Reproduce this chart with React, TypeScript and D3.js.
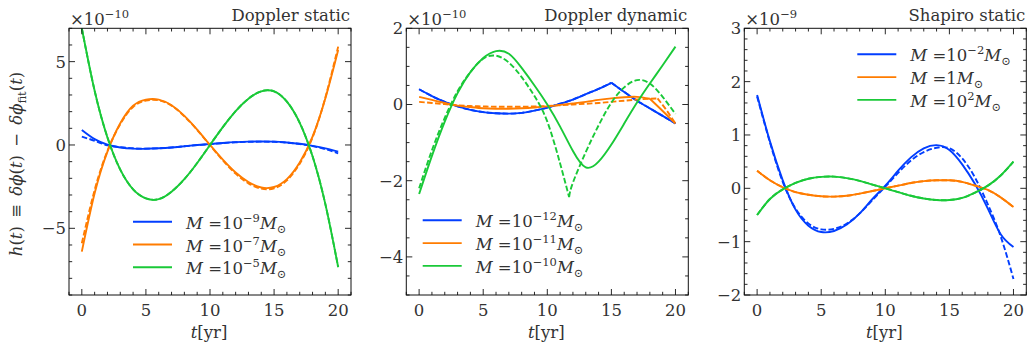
import React from 'react';
import * as d3 from 'd3';

const years = [0, 1, 2, 3, 4, 5, 6, 7, 8, 9, 10, 11, 12, 13, 14, 15, 16, 17, 18, 19, 20];

// ---------- Panel 1: Doppler static (x 1e-10)
const dsBlueSolid = [0.9, 0.35, 0.02, -0.15, -0.22, -0.23, -0.2, -0.15, -0.08, 0.0, 0.06, 0.12, 0.17, 0.2, 0.21, 0.2, 0.15, 0.07, -0.05, -0.2, -0.4];
const dsBlueDashed = [0.5, 0.25, -0.02, -0.13, -0.2, -0.22, -0.2, -0.15, -0.08, -0.01, 0.05, 0.11, 0.16, 0.19, 0.2, 0.19, 0.14, 0.06, -0.07, -0.25, -0.5];
const dsOrangeSolid = [-6.4, -2.9, -0.4, 1.3, 2.35, 2.72, 2.72, 2.38, 1.75, 0.92, 0.0, -0.88, -1.65, -2.22, -2.55, -2.52, -2.05, -1.05, 0.5, 2.8, 5.7];
const dsOrangeDashed = [-5.9, -2.7, -0.35, 1.25, 2.28, 2.66, 2.68, 2.36, 1.72, 0.9, -0.02, -0.92, -1.72, -2.3, -2.62, -2.6, -2.12, -1.12, 0.45, 2.85, 5.9];
const dsGreenSolid = [7.0, 3.25, 0.45, -1.48, -2.66, -3.2, -3.25, -2.8, -2.05, -1.08, 0.0, 1.07, 2.03, 2.78, 3.22, 3.22, 2.6, 1.33, -0.68, -3.55, -7.33];
const dsGreenDashed = dsGreenSolid;

// ---------- Panel 2: Doppler dynamic (x 1e-10)
const ddBlueSolid = [0.4, 0.22, 0.07, -0.05, -0.14, -0.2, -0.23, -0.24, -0.22, -0.16, -0.08, 0.02, 0.13, 0.27, 0.41, 0.57, 0.33, 0.1, -0.1, -0.3, -0.5];
const ddBlueDashed = ddBlueSolid;
const ddOrangeSolid = [0.2, 0.12, 0.04, -0.03, -0.07, -0.1, -0.11, -0.11, -0.1, -0.08, -0.05, -0.01, 0.03, 0.07, 0.12, 0.16, 0.19, 0.2, 0.15, -0.17, -0.5];
const ddOrangeDashedT = [0, 1, 2, 3, 4, 5, 6, 7, 8, 9, 10, 11, 12, 13, 14, 15, 16, 17, 18, 18.6, 19.3, 20];
const ddOrangeDashed = [0.07, 0.04, 0.01, -0.02, -0.04, -0.05, -0.06, -0.06, -0.06, -0.05, -0.04, -0.02, 0.0, 0.02, 0.04, 0.07, 0.1, 0.13, 0.15, 0.16, -0.15, -0.5];
const ddGreenSolid = [-2.35, -1.35, -0.45, 0.3, 0.85, 1.22, 1.4, 1.33, 0.96, 0.5, 0.0, -0.58, -1.22, -1.65, -1.5, -1.05, -0.5, 0.05, 0.55, 1.03, 1.52];
const ddGreenDashedT = [0, 1, 2, 3, 4, 5, 6, 7, 8, 9, 10, 11, 11.7, 12, 13, 14, 15, 16, 17, 18, 19, 20];
const ddGreenDashed = [-2.2, -1.2, -0.35, 0.35, 0.85, 1.2, 1.28, 1.1, 0.72, 0.22, -0.45, -1.55, -2.43, -2.05, -1.25, -0.55, 0.05, 0.45, 0.64, 0.55, 0.2, -0.25];

// ---------- Panel 3: Shapiro static (x 1e-9)
const ssBlueSolid = [1.75, 0.88, 0.15, -0.4, -0.7, -0.82, -0.8, -0.68, -0.47, -0.2, 0.05, 0.33, 0.58, 0.75, 0.81, 0.72, 0.45, 0.08, -0.38, -0.86, -1.1];
const ssBlueDashed = [1.72, 0.86, 0.12, -0.38, -0.66, -0.77, -0.76, -0.66, -0.47, -0.22, 0.03, 0.29, 0.52, 0.68, 0.76, 0.75, 0.56, 0.2, -0.3, -0.9, -1.7];
const ssOrangeSolid = [0.33, 0.15, 0.02, -0.07, -0.12, -0.15, -0.155, -0.14, -0.1, -0.05, 0.0, 0.05, 0.1, 0.135, 0.15, 0.15, 0.12, 0.05, -0.03, -0.17, -0.35];
const ssOrangeDashed = ssOrangeSolid;
const ssGreenSolid = [-0.5, -0.2, -0.02, 0.1, 0.18, 0.215, 0.22, 0.19, 0.14, 0.07, 0.0, -0.07, -0.14, -0.19, -0.22, -0.22, -0.18, -0.08, 0.05, 0.24, 0.5];
const ssGreenDashed = ssGreenSolid;

const xMajorTicks = [0, 5, 10, 15, 20];
const p1YTicks = [-5, 0, 5];
const p2YTicks = [-4, -2, 0, 2];
const p3YTicks = [-2, -1, 0, 1, 2, 3];

const BLUE = '#023eff';
const ORANGE = '#ff7c00';
const GREEN = '#1ac938';
const FONT = '"DejaVu Serif", serif';
const TXT = '#333';

type Series = { t: number[]; v: number[]; color: string; dashed: boolean; kinks?: number[] };
type LegendItem = { color: string; exp?: string; mant: string };
type PanelCfg = {
  left: number;
  yDomain: [number, number];
  yTicks: number[];
  yMinor: number;
  expo: string;
  title: string;
  legendX: number;
  legendY: number;
  legend: LegendItem[];
  series: Series[];
};

const panels: PanelCfg[] = [
  {
    left: 69,
    yDomain: [-9, 7],
    yTicks: p1YTicks,
    yMinor: 1,
    expo: '−10',
    title: 'Doppler static',
    legendX: 64,
    legendY: 221.7,
    legend: [
      { color: BLUE, mant: '10', exp: '−9' },
      { color: ORANGE, mant: '10', exp: '−7' },
      { color: GREEN, mant: '10', exp: '−5' },
    ],
    series: [
      { t: years, v: dsBlueSolid, color: BLUE, dashed: false },
      { t: years, v: dsBlueDashed, color: BLUE, dashed: true },
      { t: years, v: dsOrangeSolid, color: ORANGE, dashed: false },
      { t: years, v: dsOrangeDashed, color: ORANGE, dashed: true },
      { t: years, v: dsGreenSolid, color: GREEN, dashed: false },
      { t: years, v: dsGreenDashed, color: GREEN, dashed: true },
    ],
  },
  {
    left: 406.3,
    yDomain: [-5, 2],
    yTicks: p2YTicks,
    yMinor: 0.5,
    expo: '−10',
    title: 'Doppler dynamic',
    legendX: 16.4,
    legendY: 220.3,
    legend: [
      { color: BLUE, mant: '10', exp: '−12' },
      { color: ORANGE, mant: '10', exp: '−11' },
      { color: GREEN, mant: '10', exp: '−10' },
    ],
    series: [
      { t: years, v: ddBlueSolid, color: BLUE, dashed: false, kinks: [15] },
      { t: years, v: ddBlueDashed, color: BLUE, dashed: true, kinks: [15] },
      { t: years, v: ddOrangeSolid, color: ORANGE, dashed: false, kinks: [18] },
      { t: ddOrangeDashedT, v: ddOrangeDashed, color: ORANGE, dashed: true, kinks: [18.6] },
      { t: years, v: ddGreenSolid, color: GREEN, dashed: false },
      { t: ddGreenDashedT, v: ddGreenDashed, color: GREEN, dashed: true, kinks: [11.7] },
    ],
  },
  {
    left: 744.3,
    yDomain: [-2, 3],
    yTicks: p3YTicks,
    yMinor: 0.2,
    expo: '−9',
    title: 'Shapiro static',
    legendX: 113,
    legendY: 54.3,
    legend: [
      { color: BLUE, mant: '10', exp: '−2' },
      { color: ORANGE, mant: '1' },
      { color: GREEN, mant: '10', exp: '2' },
    ],
    series: [
      { t: years, v: ssBlueSolid, color: BLUE, dashed: false },
      { t: years, v: ssBlueDashed, color: BLUE, dashed: true },
      { t: years, v: ssOrangeSolid, color: ORANGE, dashed: false },
      { t: years, v: ssOrangeDashed, color: ORANGE, dashed: true },
      { t: years, v: ssGreenSolid, color: GREEN, dashed: false },
      { t: years, v: ssGreenDashed, color: GREEN, dashed: true },
    ],
  },
];

const TOP = 28.3;
const BOTTOM = 295;
const PW = 282;
const FS = 16.5;
const SS = 11.5;

function seriesPath(s: Series, x: d3.ScaleLinear<number, number>, y: d3.ScaleLinear<number, number>) {
  const pts: [number, number][] = s.t.map((t, i) => [t, s.v[i]]);
  const kinks = s.kinks ?? [];
  const pieces: [number, number][][] = [];
  let cur: [number, number][] = [];
  pts.forEach((p) => {
    cur.push(p);
    if (kinks.includes(p[0])) {
      pieces.push(cur);
      cur = [p];
    }
  });
  if (cur.length > 1) pieces.push(cur);
  const line = d3
    .line<[number, number]>()
    .x((d) => x(d[0]))
    .y((d) => y(d[1]))
    .curve(d3.curveNatural);
  return pieces.map((pc) => line(pc)).join('');
}

function Panel({ cfg, idx }: { cfg: PanelCfg; idx: number }) {
  const x = d3.scaleLinear().domain([-1, 21]).range([cfg.left, cfg.left + PW]);
  const y = d3.scaleLinear().domain(cfg.yDomain).range([BOTTOM, TOP]);
  const xMinor = d3.range(-1, 21.001, 1).filter((v) => !xMajorTicks.includes(v));
  const nMinor = Math.round((cfg.yDomain[1] - cfg.yDomain[0]) / cfg.yMinor);
  const yMinor = d3
    .range(0, nMinor + 1)
    .map((i) => cfg.yDomain[0] + i * cfg.yMinor)
    .filter((v) => !cfg.yTicks.some((t) => Math.abs(t - v) < 1e-6));
  const right = cfg.left + PW;
  const clipId = `clip${idx}`;
  const MAJ = 6;
  const MIN = 3.2;
  const tickStroke = '#111';
  return (
    <g>
      <defs>
        <clipPath id={clipId}>
          <rect x={cfg.left} y={TOP} width={PW} height={BOTTOM - TOP} />
        </clipPath>
      </defs>
      <g clipPath={`url(#${clipId})`}>
        {cfg.series.map((s, i) => (
          <path
            key={i}
            d={seriesPath(s, x, y)}
            fill="none"
            stroke={s.color}
            strokeWidth={1.9}
            strokeDasharray={s.dashed ? '5.6,2.4' : undefined}
          />
        ))}
      </g>
      {/* ticks */}
      <g stroke={tickStroke} strokeWidth={0.9}>
        {xMajorTicks.map((t) => (
          <g key={'xm' + t}>
            <line x1={x(t)} x2={x(t)} y1={BOTTOM} y2={BOTTOM - MAJ} />
            <line x1={x(t)} x2={x(t)} y1={TOP} y2={TOP + MAJ} />
          </g>
        ))}
        {xMinor.map((t) => (
          <g key={'xn' + t}>
            <line x1={x(t)} x2={x(t)} y1={BOTTOM} y2={BOTTOM - MIN} />
            <line x1={x(t)} x2={x(t)} y1={TOP} y2={TOP + MIN} />
          </g>
        ))}
        {cfg.yTicks.map((t) => (
          <g key={'ym' + t}>
            <line x1={cfg.left} x2={cfg.left + MAJ} y1={y(t)} y2={y(t)} />
            <line x1={right} x2={right - MAJ} y1={y(t)} y2={y(t)} />
          </g>
        ))}
        {yMinor.map((t) => (
          <g key={'yn' + t}>
            <line x1={cfg.left} x2={cfg.left + MIN} y1={y(t)} y2={y(t)} />
            <line x1={right} x2={right - MIN} y1={y(t)} y2={y(t)} />
          </g>
        ))}
      </g>
      <rect x={cfg.left} y={TOP} width={PW} height={BOTTOM - TOP} fill="none" stroke={tickStroke} strokeWidth={1} />
      {/* tick labels */}
      <g fontFamily={FONT} fontSize={FS} fill={TXT}>
        {xMajorTicks.map((t) => (
          <text key={'xl' + t} x={x(t)} y={315.5} textAnchor="middle">
            {t}
          </text>
        ))}
        {cfg.yTicks.map((t) => (
          <text key={'yl' + t} x={cfg.left - 3} y={y(t)} dy="0.36em" textAnchor="end">
            {t < 0 ? '−' + Math.abs(t) : String(t)}
          </text>
        ))}
        <text x={cfg.left + 1} y={25}>
          <tspan>×10</tspan>
          <tspan dy={-7} fontSize={SS}>
            {cfg.expo}
          </tspan>
        </text>
        <text x={right - 1} y={20.5} textAnchor="end">
          {cfg.title}
        </text>
        <text x={cfg.left + PW / 2 - 1} y={337.5} textAnchor="middle">
          <tspan fontStyle="italic">t</tspan>
          <tspan>[yr]</tspan>
        </text>
      </g>
      {/* legend */}
      <g fontFamily={FONT} fontSize={FS} fill={TXT}>
        {cfg.legend.map((it, i) => {
          const ly = cfg.legendY + i * 22.8;
          const lx = cfg.left + cfg.legendX;
          return (
            <g key={'lg' + i}>
              <line x1={lx} x2={lx + 39} y1={ly} y2={ly} stroke={it.color} strokeWidth={1.9} />
              <text x={lx + 53} y={ly + 7}>
                <tspan fontStyle="italic">M</tspan>
                <tspan> =</tspan>
                <tspan>{it.mant}</tspan>
                {it.exp ? (
                  <>
                    <tspan dy={-7} fontSize={SS}>
                      {it.exp}
                    </tspan>
                    <tspan dy={7} fontStyle="italic">
                      M
                    </tspan>
                  </>
                ) : (
                  <tspan fontStyle="italic">M</tspan>
                )}
                <tspan dy={4} fontSize={SS}>
                  ⊙
                </tspan>
              </text>
            </g>
          );
        })}
      </g>
    </g>
  );
}

export default function App() {
  return (
    <svg
      width={1027}
      height={345}
      style={{ position: 'absolute', left: 0, top: 0, background: '#fff' }}
    >
      {panels.map((p, i) => (
        <Panel key={i} cfg={p} idx={i} />
      ))}
      <text
        transform="translate(21.5,164) rotate(-90)"
        textAnchor="middle"
        fontFamily={FONT}
        fontSize={16.5}
        fill={TXT}
      >
        <tspan fontStyle="italic">h</tspan>
        <tspan>(</tspan>
        <tspan fontStyle="italic">t</tspan>
        <tspan>{')\u2002≡\u2002'}</tspan>
        <tspan fontStyle="italic">δϕ</tspan>
        <tspan>(</tspan>
        <tspan fontStyle="italic">t</tspan>
        <tspan>{')\u2002−\u2002'}</tspan>
        <tspan fontStyle="italic">δϕ</tspan>
        <tspan dy={4} fontSize={SS}>
          fit
        </tspan>
        <tspan dy={-4}>(</tspan>
        <tspan fontStyle="italic">t</tspan>
        <tspan>)</tspan>
      </text>
    </svg>
  );
}
